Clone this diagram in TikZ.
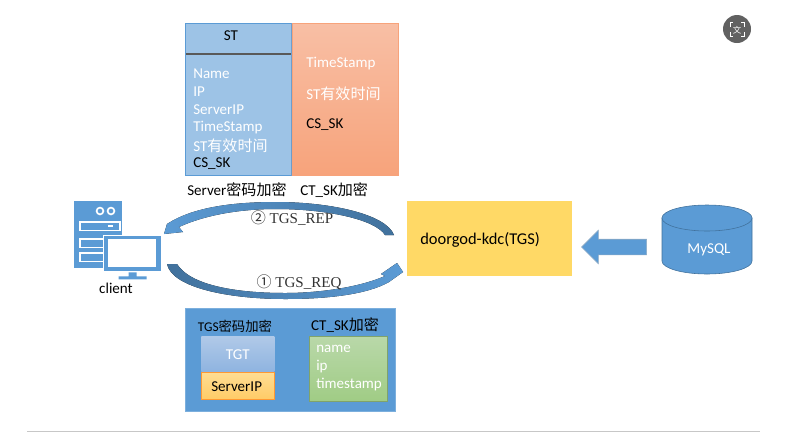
\documentclass[tikz,border=0pt]{standalone}
\usepackage{fontspec}
\setmainfont{Carlito}
\newfontfamily\cjk{Noto Sans CJK SC}
\newfontfamily\serifnum{Liberation Serif}
\usetikzlibrary{arrows.meta,positioning,calc,shapes.geometric,shapes.arrows}
\definecolor{office}{HTML}{5B9BD5}
\definecolor{deep}{HTML}{41719C}
\definecolor{stblue}{HTML}{9DC3E6}
\definecolor{kdcyellow}{HTML}{FFD966}
\definecolor{sktop}{HTML}{F8BFA5}
\definecolor{skbot}{HTML}{F7A37B}
\definecolor{tgttop}{HTML}{B0C9E8}
\definecolor{tgtbot}{HTML}{8FB4E0}
\definecolor{siptop}{HTML}{FFDD94}
\definecolor{sipbot}{HTML}{FFCB66}
\definecolor{ctttop}{HTML}{B9D8A9}
\definecolor{ctbot}{HTML}{A0CC85}
\begin{document}
\begin{tikzpicture}[x=0.025cm,y=-0.025cm,font=\fontsize{10.7}{12}\selectfont,
  box/.style={draw,minimum width=0pt,minimum height=0pt,inner sep=0pt},
  lab/.style={anchor=west,inner sep=0pt,yshift=-0.7pt},
  wlab/.style={lab,text=white},
  ctext/.style={anchor=center,inner sep=0pt,yshift=-0.7pt},
  slotbox/.style={box,draw=white,line width=1.2pt,fill=office,anchor=north west,minimum width=0.6cm,minimum height=0.22cm},
  ledmark/.style={circle,draw=white,line width=1.2pt,fill=office,minimum size=0.17cm,inner sep=0pt},
  flow/.style={font=\fontsize{10.7}{12}\serifnum,anchor=center,inner sep=0pt,text=black!80}]
\useasboundingbox (0,0) rectangle (787,436);

%% ST ticket and its CT_SK part
\node[box,draw=office,fill=stblue,anchor=north west,minimum width=2.65cm,minimum height=3.8cm] (st) at (185,23) {};
\node[box,draw=skbot,top color=sktop,bottom color=skbot,anchor=north west,minimum width=2.65cm,minimum height=3.8cm] (sk) at (st.north east) {};
\node[ctext] (sttitle) at (231,35) {ST};
\coordinate (divl) at (186,54);
\coordinate (divr) at (291,54);
\draw[black!65,thick] (divl) -- (divr);
\node[wlab] (a1) at (193,73) {Name};
\node[wlab] (a2) at (193,91) {IP};
\node[wlab] (a3) at (193,109) {ServerIP};
\node[wlab] (a4) at (193,127) {TimeStamp};
\node[wlab] (a5) at (193,145) {ST{\cjk 有效时间}};
\node[lab] (a6) at (193,163) {CS\_SK};
\node[wlab] (b1) at (306,63) {TimeStamp};
\node[wlab] (b2) at (306,93) {ST{\cjk 有效时间}};
\node[lab] (b3) at (306,124) {CS\_SK};
\node[lab] (stcap) at (187,189) {Server{\cjk 密码加密}};
\node[lab] (skcap) at (300,189) {CT\_SK{\cjk 加密}};

%% client icon
\node[box,draw=none,fill=office,anchor=north west,minimum width=1.2cm,minimum height=1.675cm] (srv) at (74,201) {};
\node[ledmark] (led1) at (100,211) {};
\node[ledmark] (led2) at (111,211) {};
\node[slotbox,minimum width=1.0cm] (slot1) at (79,221) {};
\node[slotbox] (slot2) at (79,238) {};
\node[slotbox] (slot3) at (79,252) {};
\node[box,draw=none,fill=white,anchor=center,minimum width=0.125cm,minimum height=0.06cm] (ledbar) at (110,226) {};
\node[box,draw=white,line width=1pt,fill=office,anchor=north west,minimum width=1.45cm,minimum height=0.9cm] (mon) at (103,235) {};
\node[box,draw=none,fill=white,anchor=north west,minimum width=1.2cm,minimum height=0.7cm] (screen) at (108,239) {};
\draw[draw=none,fill=office] (mon.south)++(-4,0) -- ++(8,0) -- ++(0,4) -- ++(10,0) -- ++(0,3) -- ++(-28,0) -- ++(0,-3) -- ++(10,0) -- cycle;
\node[ctext] (client) at (116,287) {client};

%% kdc and database
\node[box,draw=none,fill=kdcyellow,anchor=north west,minimum width=4.125cm,minimum height=1.875cm] (kdc) at (407,201) {};
\node[lab,font=\fontsize{11.7}{12}\selectfont] (kdctext) at (420,239) {doorgod-kdc(TGS)};
\coordinate (dbl) at (662,261);
\coordinate (dbr) at (752,261);
\draw[deep,fill=office] (662,218) -- (dbl) arc[start angle=180,end angle=0,x radius=45,y radius=13] -- (752,218) -- cycle;
\node[ellipse,draw=deep,fill=office,minimum width=2.25cm,minimum height=0.65cm,inner sep=0pt] (dbtop) at (707,218) {};
\node[ctext,text=white] (dbtext) at (709,249) {MySQL};
\node[single arrow,draw=deep!60,fill=office,shape border rotate=180,minimum width=0.825cm,single arrow head extend=0.225cm,single arrow tip angle=90,inner sep=0pt,minimum height=1.625cm] (load) at (618,247) {\rule{0pt}{0.375cm}};

%% curved arrows
\coordinate (repstart) at (394,235);
\coordinate (reptip) at (164,234);
\coordinate (reqstart) at (167,264);
\coordinate (reqtip) at (397,263);
\fill[left color=office,right color=deep] (repstart) .. controls (386,214) and (330,202) .. (276,202)
  .. controls (230,202) and (195,208) .. (172,221) -- (167,224) -- (reptip) -- (183,232) -- (179,227)
  .. controls (205,215) and (240,209) .. (276,209) .. controls (325,209) and (375,219) .. (385,235) -- cycle;
\fill[left color=deep,right color=office] (reqstart) .. controls (172,288) and (230,299) .. (285,299)
  .. controls (330,299) and (368,294) .. (389,282) -- (403,272) -- (reqtip) -- (381,274) -- (385,276)
  .. controls (360,287) and (320,293) .. (285,293) .. controls (235,293) and (190,285) .. (177,264) -- cycle;
\node[flow] (rep) at (292,218) {{\cjk ②} TGS\_REP};
\node[flow] (req) at (299,282) {{\cjk ①} TGS\_REQ};

%% request contents
\node[box,draw=office!80!white,fill=office,anchor=north west,minimum width=5.25cm,minimum height=2.575cm] (reqbox) at (185,308) {};
\node[ctext,font=\fontsize{9.5}{12}\selectfont] (tgscap) at (235,325) {TGS{\cjk 密码加密}};
\node[ctext] (ctcap) at (345,324) {CT\_SK{\cjk 加密}};
\node[box,draw=none,top color=tgttop,bottom color=tgtbot,anchor=north west,minimum width=1.825cm,minimum height=0.875cm] (tgt) at (201,336) {};
\node[ctext,text=white] (tgttext) at (tgt.center) {TGT};
\node[box,draw=orange!80,top color=siptop,bottom color=sipbot,anchor=north west,minimum width=1.825cm,minimum height=0.675cm] (sip) at (201,372) {};
\node[lab] (siptext) at (211,386) {ServerIP};
\node[box,draw=ctbot!80!black,top color=ctttop,bottom color=ctbot,anchor=north west,minimum width=1.95cm,minimum height=1.625cm] (ctbox) at (309,336) {};
\node[wlab] (c1) at (316,348) {name};
\node[wlab] (c2) at (316,366) {ip};
\node[wlab] (c3) at (316,384) {timestamp};

%% page furniture
\node[circle,fill=black!62,minimum size=0.7cm,inner sep=0pt] (badge) at (737,29) {};
\node[ctext,text=white,font=\fontsize{6}{6}\cjk] (badgetext) at (badge.center) {文};
\draw[white,line width=0.6pt] (730,27) |- (733,22) (741,22) -| (744,27) (744,32) |- (741,36) (733,36) -| (730,32);
\coordinate (rulel) at (27,431);
\coordinate (ruler) at (760,431);
\draw[black!22] (rulel) -- (ruler);
\end{tikzpicture}
\end{document}
